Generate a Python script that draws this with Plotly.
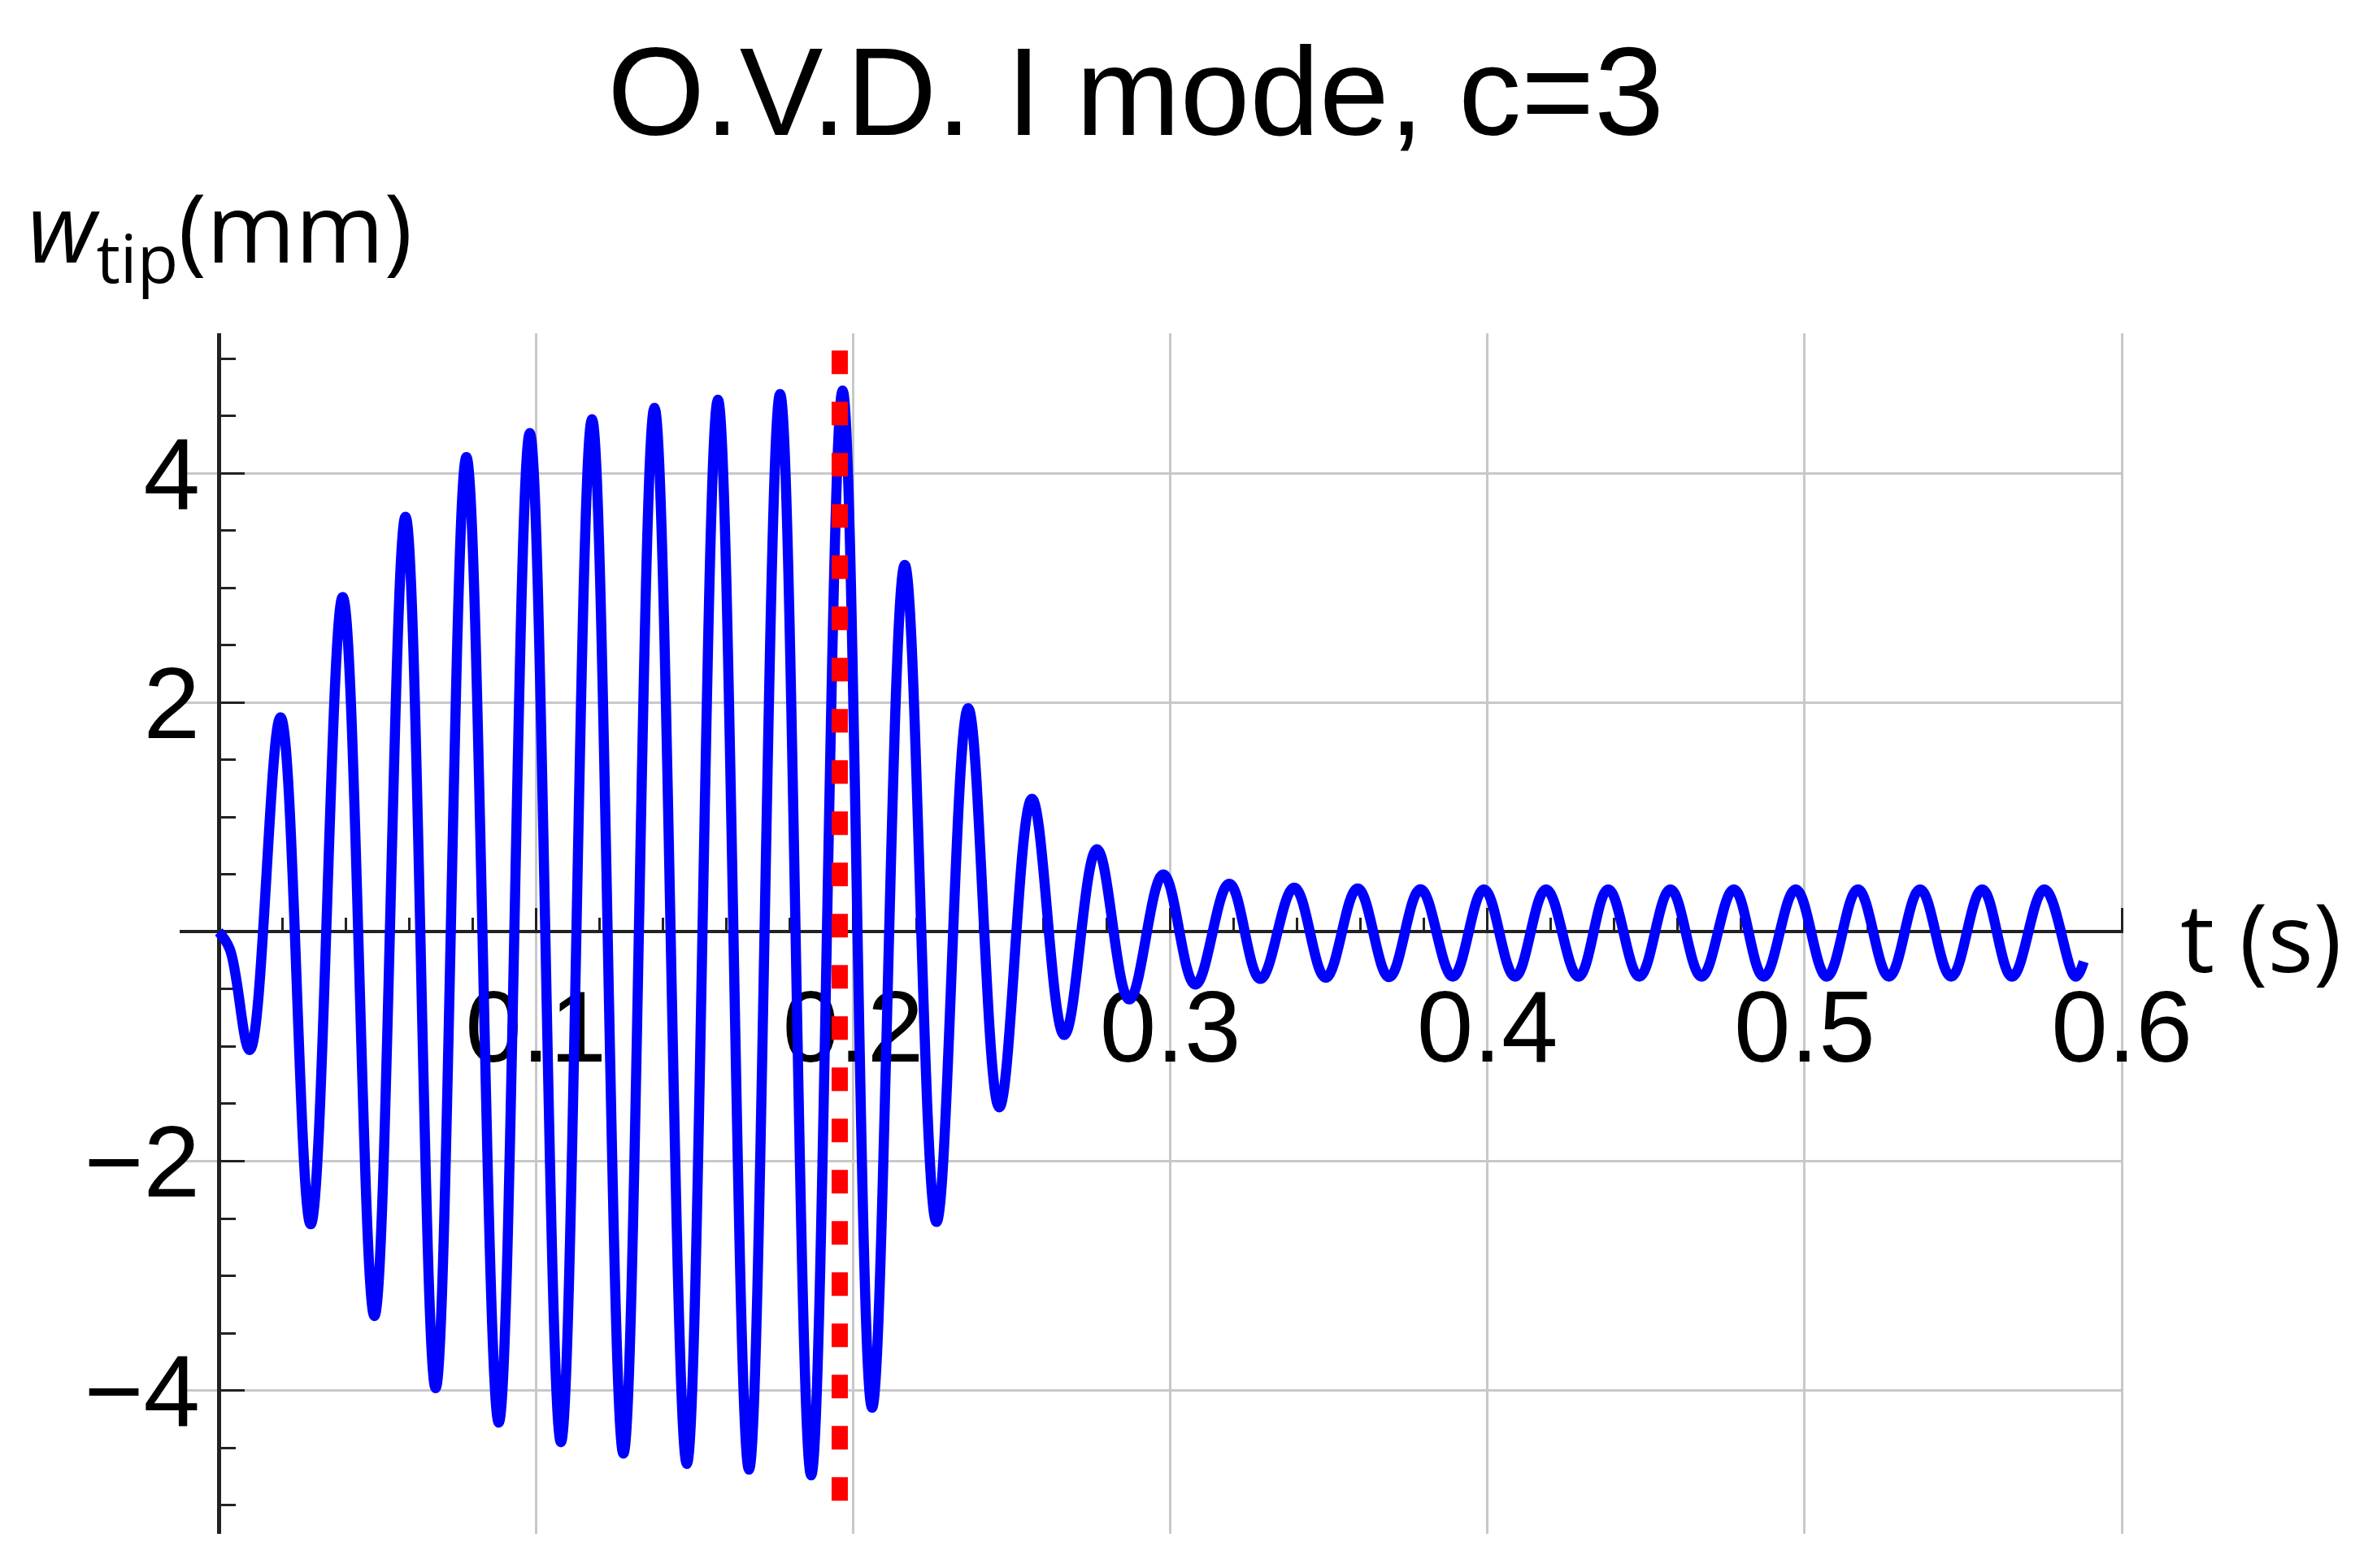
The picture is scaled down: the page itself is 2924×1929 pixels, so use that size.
import plotly.graph_objects as go

# ========================= DATA =========================
# extrema of the tip deflection (plus one early point), t in s, w in mm
t_s = [0.0, 0.0035, 0.0098, 0.0195, 0.0290, 0.0391, 0.0491, 0.0589, 0.0684, 0.0781, 0.0883,
       0.0981, 0.1079, 0.1177, 0.1276, 0.1374, 0.1476, 0.1574, 0.1672, 0.1770, 0.1868,
       0.1967, 0.2060, 0.2163, 0.2263, 0.2363, 0.2461, 0.2564, 0.2666, 0.2769, 0.2871,
       0.2978, 0.3079, 0.3186, 0.3284, 0.3391, 0.3490, 0.3591, 0.3690, 0.3789, 0.3891,
       0.3989, 0.4087, 0.4185, 0.4287, 0.4381, 0.4479, 0.4577, 0.4675, 0.4777, 0.4871,
       0.4972, 0.5070, 0.5168, 0.5266, 0.5364, 0.5462, 0.5560, 0.5654, 0.5756, 0.5854,
       0.5880]
w_mm = [0.0, -0.15, -1.03, 1.87, -2.55, 2.92, -3.35, 3.62, -3.98, 4.14, -4.28,
        4.35, -4.45, 4.47, -4.55, 4.57, -4.64, 4.64, -4.69, 4.69, -4.74,
        4.72, -4.15, 3.20, -2.53, 1.95, -1.53, 1.16, -0.90, 0.72, -0.59,
        0.50, -0.46, 0.42, -0.41, 0.385, -0.40, 0.378, -0.395, 0.372, -0.39,
        0.37, -0.39, 0.37, -0.39, 0.37, -0.39, 0.37, -0.39, 0.37, -0.39,
        0.37, -0.39, 0.37, -0.39, 0.37, -0.39, 0.37, -0.39, 0.37, -0.39,
        -0.26]

# red dotted marker line (drawn top to bottom)
marker_t = [0.1958, 0.1958]
marker_w = [5.07, -5.02]

x_ticks = [0.1, 0.2, 0.3, 0.4, 0.5, 0.6]
x_labels = ["0.1", "0.2", "0.3", "0.4", "0.5", "0.6"]
y_ticks = [-4, -2, 2, 4]
y_labels = ["\u22124", "\u22122", "2", "4"]

# ========================= GEOMETRY =========================
W, H = 2924, 1929
BODY = 8                      # default page margin around the plot div
M = dict(l=213, r=320, t=402, b=50)
X_RANGE = [-0.0123, 0.6005]
Y_RANGE = [-5.25, 5.22]
PW = W - M["l"] - M["r"]
PH = H - M["t"] - M["b"]

def px_x(X):   # screenshot pixel -> paper x
    return (X - BODY - M["l"]) / PW

def px_y(Y):   # screenshot pixel -> paper y
    return (H - M["b"] - (Y - BODY)) / PH

TICK_FONT = dict(family="Liberation Sans, Arial", size=125, color="black")
LABEL_FONT = dict(family="Open Sans, Noto Sans", size=118, color="black")
AX = "#222222"

fig = go.Figure()

fig.add_trace(go.Scatter(
    x=t_s, y=w_mm, mode="lines",
    line=dict(color="#0000ff", width=12.5, shape="spline", smoothing=1.1),
    showlegend=False, hoverinfo="skip"
))

fig.add_trace(go.Scatter(
    x=marker_t, y=marker_w, mode="lines",
    line=dict(color="#ff0000", width=20, dash="29px,34px"),
    showlegend=False, hoverinfo="skip"
))

fig.update_xaxes(
    range=X_RANGE, anchor="free",
    position=(0 - Y_RANGE[0]) / (Y_RANGE[1] - Y_RANGE[0]),
    showgrid=True, gridcolor="#c8c8c8", gridwidth=3, zeroline=False,
    showline=True, linecolor=AX, linewidth=4,
    tickmode="array", tickvals=x_ticks, ticktext=x_labels,
    ticks="inside", ticklen=27, tickwidth=3, tickcolor=AX,
    minor=dict(ticks="inside", ticklen=15, tickwidth=3, tickcolor=AX,
               tick0=0, dtick=0.02, showgrid=False),
    tickfont=TICK_FONT, ticklabelstandoff=8, layer="below traces"
)

fig.update_yaxes(
    range=Y_RANGE, anchor="free",
    position=(0 - X_RANGE[0]) / (X_RANGE[1] - X_RANGE[0]),
    showgrid=True, gridcolor="#c8c8c8", gridwidth=3, zeroline=False,
    showline=True, linecolor=AX, linewidth=5,
    tickmode="array", tickvals=y_ticks, ticktext=y_labels,
    ticks="inside", ticklen=29, tickwidth=3, tickcolor=AX,
    minor=dict(ticks="inside", ticklen=18, tickwidth=3, tickcolor=AX,
               tick0=0, dtick=0.5, showgrid=False),
    tickfont=TICK_FONT, ticklabelstandoff=-4, layer="below traces"
)

fig.add_annotation(
    text="<i>w</i><sub>tip</sub>(mm)", xref="paper", yref="paper",
    x=px_x(32), y=px_y(284), xanchor="left", yanchor="middle",
    showarrow=False, font=LABEL_FONT
)
fig.add_annotation(
    text="t (s)", xref="paper", yref="paper",
    x=px_x(2680), y=px_y(1150), xanchor="left", yanchor="middle",
    showarrow=False, font=LABEL_FONT
)

fig.update_layout(
    width=W, height=H, margin=M,
    paper_bgcolor="white", plot_bgcolor="white",
    showlegend=False,
    title=dict(text="O.V.D. I mode, c=3", x=(1397 - BODY) / W, y=1 - (112 - BODY) / H,
               xref="container", yref="container",
               xanchor="center", yanchor="middle",
               font=dict(family="Liberation Sans, Arial", size=154, color="black"))
)

fig.write_html("out.html")
